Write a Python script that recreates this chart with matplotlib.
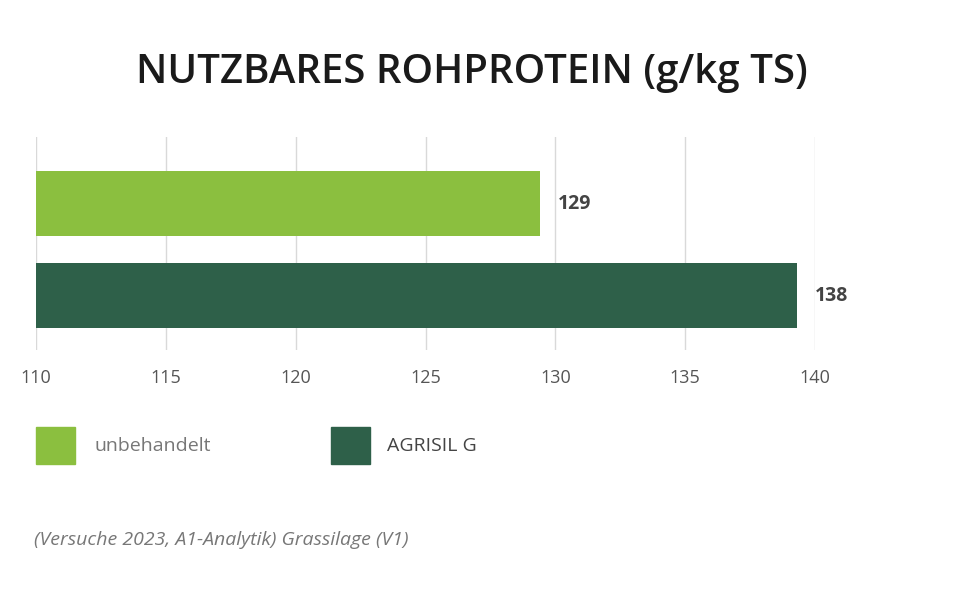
import matplotlib
matplotlib.use("Agg")
import matplotlib.pyplot as plt
from matplotlib.patches import Rectangle

categories = ["unbehandelt", "AGRISIL G"]
values = [129.4, 139.3]
value_labels = ["129", "138"]
colors = ["#8BBF3F", "#2E6049"]
ticks = [110, 115, 120, 125, 130, 135, 140]

plt.rcParams['font.family'] = ['Open Sans', 'DejaVu Sans']
fig = plt.figure(figsize=(9.68, 6.10), dpi=100)
ax = fig.add_axes([36/968, 1-350/610, (815-36)/968, 213/610])
ax.barh(range(len(values)), [v-110 for v in values], left=110, height=0.707, color=colors, zorder=3)
ax.set_xlim(110, 140)
ax.set_ylim(1.592, -0.723)
ax.set_xticks(ticks)
ax.set_xticklabels([str(t) for t in ticks], fontsize=13, color="#555555")
ax.set_yticks([])
ax.grid(axis='x', color="#d9d9d9", lw=1, zorder=0)
for s in ax.spines.values():
    s.set_visible(False)
ax.tick_params(axis='x', length=0, pad=14)
for i, (v, l) in enumerate(zip(values, value_labels)):
    ax.text(v + 0.7, i, l, va='center', ha='left', fontsize=14, fontweight='bold', color="#444444")

fig.text(0.487, 1-73/610, "NUTZBARES ROHPROTEIN (g/kg TS)", ha='center', va='center',
         fontsize=29, fontweight='semibold', color="#1a1a1a")

for x0, x1, txt in [(36, 95, categories[0]), (331, 387, categories[1])]:
    fig.patches.append(Rectangle((x0/968, 1-464/610), 39/968, 37/610, transform=fig.transFigure,
                                 color=colors[0] if txt == categories[0] else colors[1]))
    fig.text(x1/968, 1-446/610, txt, ha='left', va='center', fontsize=14,
             color="#777777" if txt == categories[0] else "#444444")

fig.text(34/968, 1-540/610, "(Versuche 2023, A1-Analytik) Grassilage (V1)", ha='left', va='center',
         fontsize=14, style='italic', color="#777777")
fig.savefig("out.png", dpi=100)
